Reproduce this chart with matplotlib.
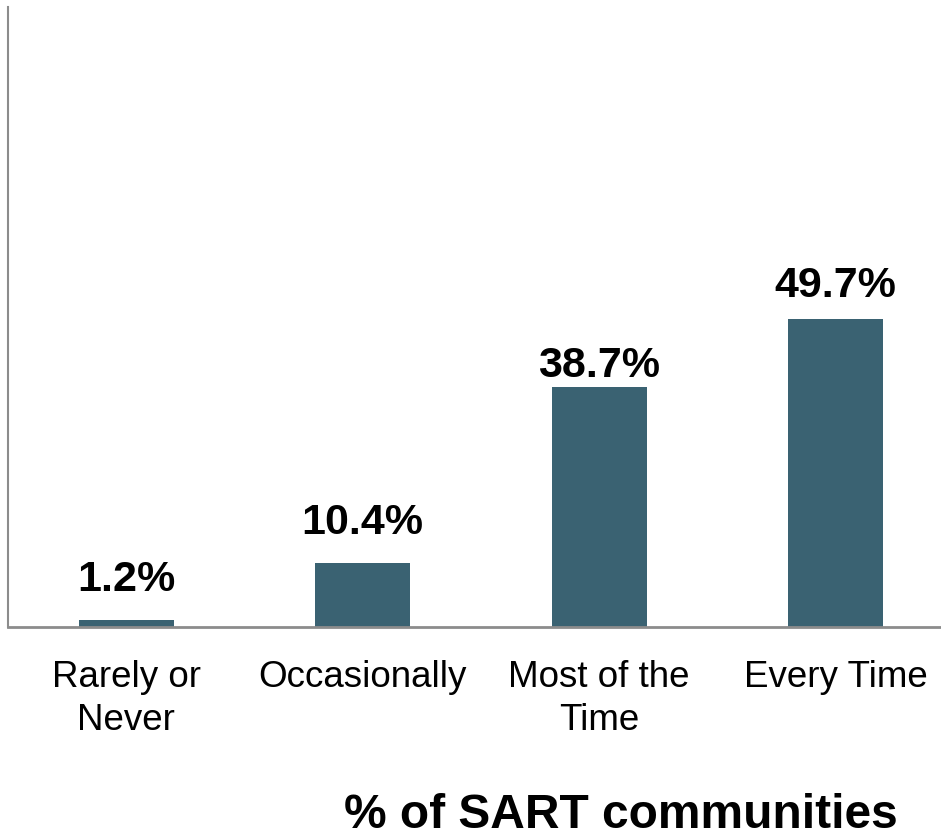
import matplotlib.pyplot as plt

categories = ["Rarely or\nNever", "Occasionally", "Most of the\nTime", "Every Time"]
values = [1.2, 10.4, 38.7, 49.7]
value_labels = ["1.2%", "10.4%", "38.7%", "49.7%"]

plt.rcParams['font.family'] = ['Liberation Sans', 'DejaVu Sans']

fig = plt.figure(figsize=(9.41, 8.37), dpi=100)
ax = fig.add_axes([8 / 941, 1 - 628 / 837, 946 / 941, 620 / 837])

x = range(len(categories))
bars = ax.bar(x, values, width=0.4, color="#3a6272")
# label gaps above bars vary in the original, in points
gaps = [21.5, 21.5, 8, 16.5]
for b, lab, g in zip(bars, value_labels, gaps):
    ax.annotate(lab, (b.get_x() + b.get_width() / 2, b.get_height()),
                xytext=(0, g), textcoords="offset points",
                ha="center", va="baseline", fontsize=31, fontweight="bold")

ax.set_xlim(-0.5, 3.5)
ax.set_ylim(0, 100)
ax.set_yticks([])
ax.set_xticks(list(x))
ax.set_xticklabels(categories, fontsize=26.5, linespacing=1.3)
ax.tick_params(axis="x", length=0, pad=23)
for s in ["top", "right"]:
    ax.spines[s].set_visible(False)
ax.spines["left"].set_color("#8c8c8c")
ax.spines["bottom"].set_color("#8c8c8c")
ax.spines["left"].set_linewidth(1.5)
ax.spines["bottom"].set_linewidth(2)

fig.text(621 / 941, 1 - 816 / 837, "% of SART communities", ha="center", va="center",
         fontsize=34.5, fontweight="bold")

fig.savefig("out.png", dpi=100)
